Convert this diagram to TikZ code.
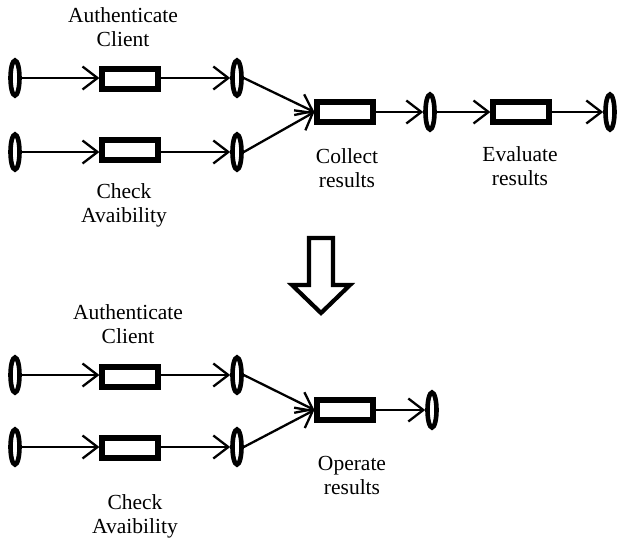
\documentclass[tikz,border=0pt]{standalone}
\usepackage{fontspec}
\setmainfont{Liberation Serif}
\usetikzlibrary{arrows.meta,shapes.geometric}
\begin{document}
\begin{tikzpicture}[x=1pt,y=-1pt,
  ev/.style={draw, ellipse, line width=4.6pt, minimum width=9pt, minimum height=35pt, inner sep=0pt},
  act/.style={draw, rectangle, line width=5.2pt, minimum width=56pt, minimum height=20pt, inner sep=0pt},
  lbl/.style={align=center, font=\fontsize{21.5}{24}\selectfont, inner sep=0pt},
  conn/.style={line width=2.3pt, -{Straight Barb[length=15pt,width=23pt,line width=2.3pt]}}]
\useasboundingbox (0,0) rectangle (619,544);
% top part
\node[ev] (a1) at (15,78) {};
\node[act] (r1) at (130,79) {};
\node[ev] (b1) at (237,78) {};
\node[ev] (a2) at (15,152) {};
\node[act] (r2) at (130,150) {};
\node[ev] (b2) at (237,152) {};
\node[act] (c) at (345,112) {};
\node[ev] (d) at (430,112) {};
\node[act] (e) at (521,112) {};
\node[ev] (f) at (610,112) {};
\draw[conn] (a1.east) -- (r1.west |- a1.east);
\draw[conn] (r1.east |- b1.west) -- (b1.west);
\draw[conn] (a2.east) -- (r2.west |- a2.east);
\draw[conn] (r2.east |- b2.west) -- (b2.west);
\draw[conn] (b1.east) -- (c.west);
\draw[conn] (b2.east) -- (c.west);
\draw[conn] (c.east) -- (d.west);
\draw[conn] (d.east) -- (e.west);
\draw[conn] (e.east) -- (f.west);
\node[lbl] (l1) at (123,27) {Authenticate\\Client};
\node[lbl] (l2) at (124,205) {Check\\Avaibility};
\node[lbl] (l3) at (347,168) {Collect\\results};
\node[lbl] (l4) at (520,166) {Evaluate\\results};
% hollow arrow
\draw[line width=4.2pt, line join=miter] (309,238) -- (333,238) -- (333,285) -- (350,285) -- (321,313) -- (292,285) -- (309,285) -- cycle;
% bottom part
\node[ev] (ba1) at (15,375) {};
\node[act] (br1) at (130,377) {};
\node[ev] (bb1) at (237,375) {};
\node[ev] (ba2) at (15,447) {};
\node[act] (br2) at (130,448) {};
\node[ev] (bb2) at (237,447) {};
\node[act] (bc) at (345,410) {};
\node[ev] (bd) at (432,410) {};
\draw[conn] (ba1.east) -- (br1.west |- ba1.east);
\draw[conn] (br1.east |- bb1.west) -- (bb1.west);
\draw[conn] (ba2.east) -- (br2.west |- ba2.east);
\draw[conn] (br2.east |- bb2.west) -- (bb2.west);
\draw[conn] (bb1.east) -- (bc.west);
\draw[conn] (bb2.east) -- (bc.west);
\draw[conn] (bc.east) -- (bd.west);
\node[lbl] (m1) at (128,324) {Authenticate\\Client};
\node[lbl] (m2) at (135,516) {Check\\Avaibility};
\node[lbl] (m3) at (352,475) {Operate\\results};
\end{tikzpicture}
\end{document}
